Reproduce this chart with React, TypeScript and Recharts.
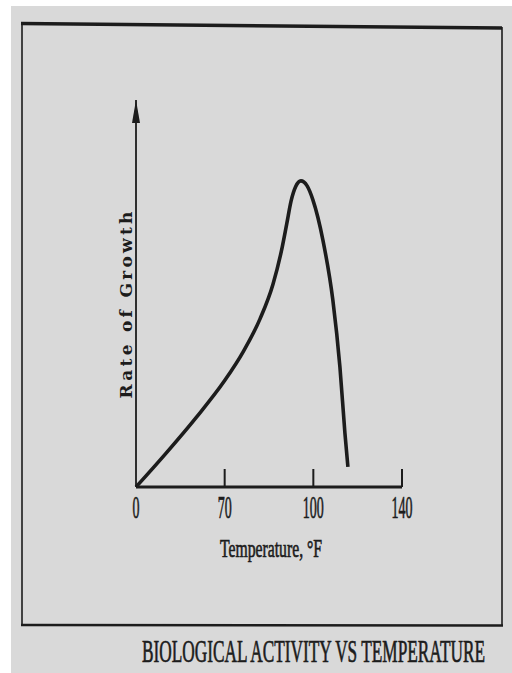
import React from "react";
import { LineChart, Line, XAxis, YAxis, ReferenceDot, Label } from "recharts";

// curve; x is tick position (0..3), y is rate of growth (0..100)
const curveX = [0, 0.33, 0.68, 1.0, 1.21, 1.4, 1.545, 1.64, 1.7, 1.75, 1.8, 1.86, 1.93, 1.995, 2.108, 2.22, 2.3, 2.356, 2.39];
const curveY = [0, 8.5, 18.0, 27.5, 35.0, 43.5, 52.4, 61.0, 68.0, 74.0, 77.6, 79.1, 77.8, 74.2, 63.8, 48.3, 31.0, 14.0, 5.2];

const tickPos = [0, 1, 2, 3];
const tickLabels = ["0", "70", "100", "140"];

const title = "BIOLOGICAL ACTIVITY VS TEMPERATURE";
const xTitle = "Temperature, °F";
const yTitle = "Rate of Growth";

const data = curveX.map((x, i) => ({ x, y: curveY[i] }));

const INK = "#1c1c1c";
const SERIF = "'Liberation Serif', 'DejaVu Serif', serif";

// condensed serif text: drawn at double width, then squeezed to half
const Squeezed = ({ x, y, width, size, anchor = "start", children }: any) => {
  const s = 0.5;
  return (
    <text
      x={0}
      y={0}
      transform={`translate(${x} ${y}) scale(${s} 1)`}
      textAnchor={anchor}
      fontFamily={SERIF}
      fontSize={size}
      fill={INK}
      stroke={INK}
      strokeWidth={0.7}
      textLength={width / s}
      lengthAdjust="spacingAndGlyphs"
    >
      {children}
    </text>
  );
};

const XTick = (props: any) => {
  const { x, y, payload } = props;
  const idx = tickPos.indexOf(payload.value);
  const label = tickLabels[idx] ?? String(payload.value);
  return (
    <g>
      {payload.value > 0 && <line x1={x} x2={x} y1={y} y2={y - 18} stroke={INK} strokeWidth={2} />}
      <Squeezed x={x} y={y + 31} width={7 * label.length} size={31} anchor="middle">
        {label}
      </Squeezed>
    </g>
  );
};

const Arrow = (props: any) => {
  const { cx, cy } = props;
  return <polygon points={`${cx},${cy} ${cx - 4},${cy + 23} ${cx + 4},${cy + 23}`} fill={INK} />;
};

export default function App() {
  return (
    <div style={{ position: "absolute", left: 0, top: 0, width: 512, height: 673, background: "#fff" }}>
      <div style={{ position: "absolute", left: 11, top: 6, width: 501, height: 667, background: "#d9d9d9" }} />

      <svg width={512} height={673} style={{ position: "absolute", left: 0, top: 0 }}>
        {/* frame */}
        <line x1={21} y1={23.5} x2={502} y2={28} stroke={INK} strokeWidth={3.5} />
        <line x1={22} y1={23} x2={22} y2={625} stroke={INK} strokeWidth={1.6} />
        <line x1={502} y1={27} x2={502} y2={626} stroke={INK} strokeWidth={1.6} />
        <line x1={21} y1={625} x2={503} y2={625.5} stroke={INK} strokeWidth={2.6} />
        <Squeezed x={142} y={662} width={343} size={32}>
          {title}
        </Squeezed>
      </svg>

      <div style={{ position: "absolute", left: 0, top: 0 }}>
        <LineChart width={512} height={673} data={data} margin={{ top: 100, right: 110, bottom: 156, left: 126 }}>
          <XAxis
            dataKey="x"
            type="number"
            domain={[0, 3]}
            ticks={tickPos}
            interval={0}
            height={30}
            tickSize={0}
            tickMargin={0}
            tickLine={false}
            axisLine={{ stroke: INK, strokeWidth: 3 }}
            tick={<XTick />}
          >
            <Label
              content={(p: any) => {
                const vb = p.viewBox;
                return (
                  <Squeezed x={vb.x + vb.width / 2 + 2} y={vb.y + 70} width={102} size={26} anchor="middle">
                    {xTitle}
                  </Squeezed>
                );
              }}
            />
          </XAxis>
          <YAxis
            type="number"
            domain={[0, 100]}
            width={10}
            tick={false}
            tickLine={false}
            axisLine={{ stroke: INK, strokeWidth: 1.8 }}
          >
            <Label
              content={(p: any) => {
                const vb = p.viewBox;
                const cx = vb.x + vb.width - 4;
                const cy = vb.y + 205;
                return (
                  <text
                    x={cx}
                    y={cy}
                    transform={`rotate(-90 ${cx} ${cy})`}
                    textAnchor="middle"
                    fontFamily="'DejaVu Serif', serif"
                    fontSize={17}
                    fontWeight="bold"
                    fill={INK}
                    textLength={187}
                    lengthAdjust="spacing"
                  >
                    {yTitle}
                  </text>
                );
              }}
            />
          </YAxis>
          <ReferenceDot x={0} y={100} ifOverflow="visible" shape={<Arrow />} />
          <Line
            type="monotone"
            dataKey="y"
            stroke={INK}
            strokeWidth={3.6}
            dot={false}
            isAnimationActive={false}
          />
        </LineChart>
      </div>
    </div>
  );
}
